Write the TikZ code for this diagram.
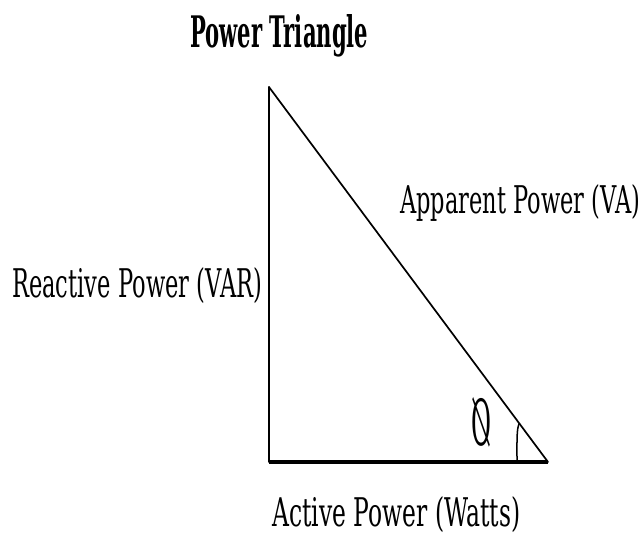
\documentclass[tikz,border=0pt]{standalone}
\usepackage{fontspec}
\setmainfont{DejaVu Serif}
\usepackage{graphicx}
\begin{document}
\begin{tikzpicture}[x=1pt,y=-1pt,
  lbl/.style={inner sep=0pt,anchor=base west},
  side/.style={line width=1.7pt,line cap=round,line join=round},
  base/.style={line width=3.2pt},
  anglemark/.style={line width=1.5pt}]
\useasboundingbox[fill=white] (0,0) rectangle (644,550);
\coordinate (A) at (269,87);
\coordinate (B) at (269,462);
\coordinate (C) at (548,462);
\coordinate (M0) at (517,462);
\coordinate (M1) at (519.5,423);
\draw[side] (A) -- (B);
\draw[side] (A) -- (C);
\draw[base] (B) -- (C);
\draw[anglemark] (M0) .. controls (517,440) and (516.5,428) .. (M1);
\node[lbl] (title) at (190,47) {\resizebox{178pt}{33pt}{\bfseries Power Triangle}};
\node[lbl] (react) at (12,297) {\resizebox{250pt}{30pt}{Reactive Power (VAR)}};
\node[lbl] (appar) at (400,213) {\resizebox{240pt}{29pt}{Apparent Power (VA)}};
\node[lbl] (activ) at (272,526) {\resizebox{248pt}{30pt}{Active Power (Watts)}};
\node[inner sep=0pt] (phi) at (481,422) {\reflectbox{\resizebox{20pt}{48pt}{Ø}}};
\end{tikzpicture}
\end{document}
